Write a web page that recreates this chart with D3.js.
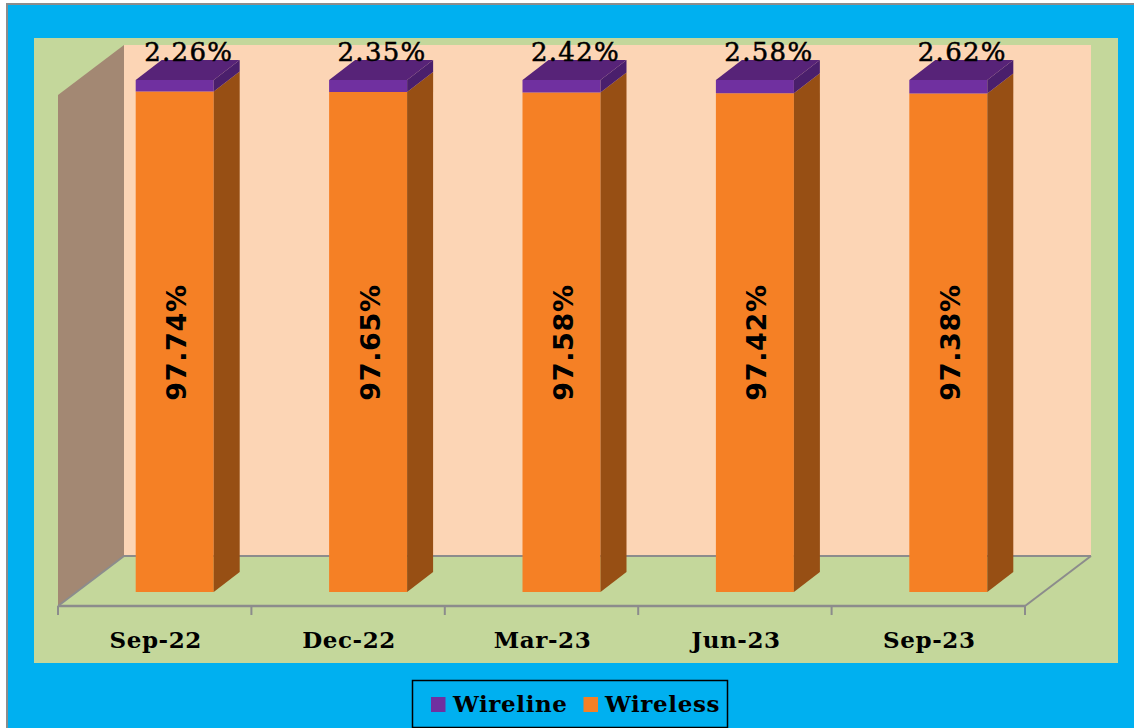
<!DOCTYPE html>
<html><head><meta charset="utf-8"><style>html,body{margin:0;padding:0;background:#fff}svg{display:block}
text{font-family:"DejaVu Serif",serif;fill:#000}</style>
<script src="https://cdn.jsdelivr.net/npm/d3@7/dist/d3.min.js"></script></head><body>
<script>
const categories=["Sep-22","Dec-22","Mar-23","Jun-23","Sep-23"];
const wireline=[2.26,2.35,2.42,2.58,2.62];
const wireless=[97.74,97.65,97.58,97.42,97.38];
const legendItems=["Wireline","Wireless"];
const W=1134,H=728;
const svg=d3.select("body").append("svg").attr("width",W).attr("height",H);
const poly=(pts,fill,stroke)=>svg.append("polygon").attr("points",pts.map(p=>p.join(",")).join(" ")).attr("fill",fill).attr("stroke",stroke||"none");
svg.append("rect").attr("width",W).attr("height",H).attr("fill","#fff");
svg.append("rect").attr("x",7).attr("y",4).attr("width",W).attr("height",H).attr("fill","#00b0f0").attr("stroke","#8c8c8c").attr("stroke-width",2);
svg.append("rect").attr("x",34).attr("y",38).attr("width",1084).attr("height",625).attr("fill","#c4d79b");
const dx=66,dy=50,x0=58,x1=1025,yb=606,yt=95;
const dBar=26,dBarY=20;
poly([[x0+dx,yt-dy],[x1+dx,yt-dy],[x1+dx,yb-dy],[x0+dx,yb-dy]],"#fcd5b5");
poly([[x0,yt],[x0+dx,yt-dy],[x0+dx,yb-dy],[x0,yb]],"#a38873");
poly([[x0,yb],[x0+dx,yb-dy],[x1+dx,yb-dy],[x1,yb]],"#c4d79b");
const grey="#8c8c8c";
const axisLine=(a,b,c,d,w)=>svg.append("line").attr("x1",a).attr("y1",b).attr("x2",c).attr("y2",d).attr("stroke",grey).attr("stroke-width",w||2);
axisLine(x0+dx,yb-dy,x1+dx,yb-dy);axisLine(x0,yb,x0+dx,yb-dy);axisLine(x1,yb,x1+dx,yb-dy);
const x=d3.scaleBand().domain(categories).range([x0,x1]);
const y=d3.scaleLinear().domain([0,100]).range([592,80]);
const axisG=svg.append("g").attr("transform",`translate(0,${yb})`).call(d3.axisBottom(x).tickSize(0).tickPadding(0));
axisG.select(".domain").remove();
axisG.selectAll("text").attr("x",1).attr("y",42).attr("dy",0).style("font-size","23px").style("letter-spacing","0.6px").style("font-weight","bold").style("font-family",'"DejaVu Serif",serif').attr("fill","#000").attr("text-anchor","middle");
d3.range(categories.length+1).forEach(i=>{const t=x0+x.step()*i;axisLine(t,yb,t,yb+9);});
axisLine(x0,yb,x1,yb,2.4);
const bw=78,off=(x.step()-bw)/2+20;
categories.forEach((c,i)=>{
  const l=x(c)+off,r=l+bw;
  const ySplit=y(wireless[i]),yTop=y(wireless[i]+wireline[i]),yB=y(0);
  poly([[l,ySplit],[r,ySplit],[r,yB],[l,yB]],"#f58025");
  poly([[r,ySplit],[r+dBar,ySplit-dBarY],[r+dBar,yB-dBarY],[r,yB]],"#974f14");
  poly([[l,yTop],[r,yTop],[r,ySplit],[l,ySplit]],"#7030a0");
  poly([[r,yTop],[r+dBar,yTop-dBarY],[r+dBar,ySplit-dBarY],[r,ySplit]],"#4a1f6c");
  poly([[l,yTop],[l+dBar,yTop-dBarY],[r+dBar,yTop-dBarY],[r,yTop]],"#572378");
  svg.append("text").attr("transform",`translate(${l+41},${342.5}) rotate(-90)`).attr("text-anchor","middle").attr("dominant-baseline","central").style("font-family",'"DejaVu Sans",sans-serif').style("font-size","27px").style("letter-spacing","0.7px").style("font-weight","bold").text(wireless[i].toFixed(2)+"%");
  svg.append("text").attr("x",l+53).attr("y",61).attr("text-anchor","middle").style("font-family",'"DejaVu Serif",serif').style("font-size","26px").style("letter-spacing","1.3px").style("stroke","#000").style("stroke-width","0.5px").text(wireline[i].toFixed(2)+"%");
});
svg.append("rect").attr("x",412.5).attr("y",680.5).attr("width",315).attr("height",47).attr("fill","none").attr("stroke","#000").attr("stroke-width",1.5);
const lx=[431,583.5],lc=["#7030a0","#f58025"],tx=[453,605];
legendItems.forEach((t,i)=>{
  svg.append("rect").attr("x",lx[i]).attr("y",697).attr("width",14.5).attr("height",15).attr("fill",lc[i]);
  svg.append("text").attr("x",tx[i]).attr("y",712).style("font-size","23px").style("letter-spacing","0.6px").style("font-weight","bold").text(t);
});
</script></body></html>
